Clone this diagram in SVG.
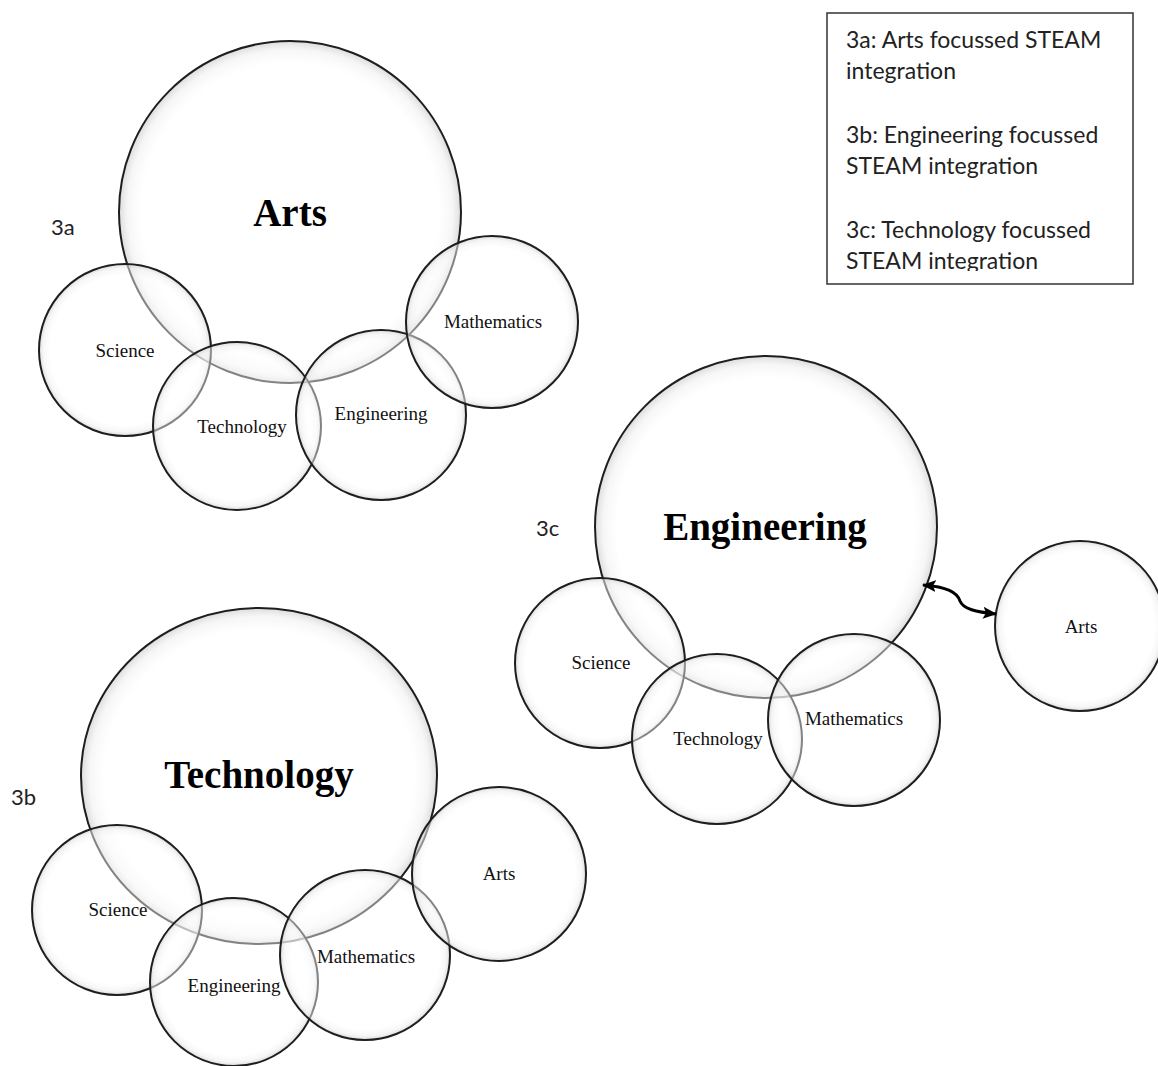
<svg xmlns="http://www.w3.org/2000/svg" width="1158" height="1066" viewBox="0 0 1158 1066">
<style>
.c{fill:url(#glow);stroke:#1e1e1e;stroke-width:2}
.lbl{font-family:"Liberation Serif","Times New Roman",serif;font-size:19px;fill:#111;text-anchor:middle}
.big{font-family:"Liberation Serif","Times New Roman",serif;font-size:39px;font-weight:bold;fill:#000;text-anchor:middle}
.tag{font-family:Lato,"Open Sans",sans-serif;font-size:22px;fill:#222}
.leg{font-family:Lato,"Open Sans",sans-serif;font-size:23px;fill:#222}
.conn{fill:none;stroke:#000;stroke-width:3}
</style>
<defs>
<radialGradient id="glow" cx="0.5" cy="0.5" r="0.5">
<stop offset="0" stop-color="#fff" stop-opacity="0.45"/>
<stop offset="0.87" stop-color="#fff" stop-opacity="0.45"/>
<stop offset="0.95" stop-color="#efefef" stop-opacity="0.55"/>
<stop offset="1" stop-color="#cccccc" stop-opacity="0.7"/>
</radialGradient>
<marker id="ah" viewBox="0 0 14 12" refX="13" refY="6" markerWidth="14" markerHeight="12" markerUnits="userSpaceOnUse" orient="auto-start-reverse">
<path d="M0,0 L14,6 L0,12 L3,6 Z" fill="#000"/>
</marker>
<clipPath id="legclip"><rect x="827" y="13" width="306" height="258"/></clipPath>
</defs>
<rect width="1158" height="1066" fill="#fff"/>

<g id="legend">
<rect x="827" y="13" width="306" height="271" fill="#fff" stroke="#333" stroke-width="1.5"/>
<g clip-path="url(#legclip)">
<text class="leg" x="846" y="48">3a: Arts focussed STEAM</text>
<text class="leg" x="846" y="79">integration</text>
<text class="leg" x="846" y="143">3b: Engineering focussed</text>
<text class="leg" x="846" y="174">STEAM integration</text>
<text class="leg" x="846" y="238">3c: Technology focussed</text>
<text class="leg" x="846" y="269">STEAM integration</text>
</g>
</g>

<text class="tag" x="51" y="235">3a</text>
<text class="tag" x="11" y="805">3b</text>
<text class="tag" x="536" y="536">3c</text>

<g id="a-arts"><circle class="c" cx="290" cy="212" r="171"/><text class="big" x="290" y="226">Arts</text></g>
<g id="a-science"><circle class="c" cx="125" cy="350" r="86"/><text class="lbl" x="125" y="357">Science</text></g>
<g id="a-technology"><circle class="c" cx="237" cy="426" r="84"/><text class="lbl" x="242" y="433">Technology</text></g>
<g id="a-engineering"><circle class="c" cx="381" cy="415" r="85"/><text class="lbl" x="381" y="420">Engineering</text></g>
<g id="a-mathematics"><circle class="c" cx="492" cy="322" r="86"/><text class="lbl" x="493" y="328">Mathematics</text></g>

<g id="b-technology"><ellipse class="c" cx="259" cy="776" rx="178" ry="168"/><text class="big" x="259" y="788">Technology</text></g>
<g id="b-science"><circle class="c" cx="117" cy="910" r="85"/><text class="lbl" x="118" y="916">Science</text></g>
<g id="b-engineering"><circle class="c" cx="234" cy="982" r="84"/><text class="lbl" x="234" y="992">Engineering</text></g>
<g id="b-mathematics"><circle class="c" cx="365" cy="955" r="85"/><text class="lbl" x="366" y="963">Mathematics</text></g>
<g id="b-arts"><circle class="c" cx="499" cy="874" r="87"/><text class="lbl" x="499" y="880">Arts</text></g>

<g id="c-engineering"><circle class="c" cx="766" cy="527" r="171"/><text class="big" x="765" y="540">Engineering</text></g>
<g id="c-science"><circle class="c" cx="600" cy="663" r="85"/><text class="lbl" x="601" y="669">Science</text></g>
<g id="c-technology"><circle class="c" cx="717" cy="739" r="85"/><text class="lbl" x="718" y="745">Technology</text></g>
<g id="c-mathematics"><circle class="c" cx="854" cy="720" r="86"/><text class="lbl" x="854" y="725">Mathematics</text></g>
<g id="c-arts"><circle class="c" cx="1080" cy="626" r="85"/><text class="lbl" x="1081" y="633">Arts</text></g>

<g id="connectors">
<path class="conn" d="M923,585 C947,587 957,592 960,601 C963,609 976,612 996,614" marker-start="url(#ah)" marker-end="url(#ah)"/>
</g>
</svg>
